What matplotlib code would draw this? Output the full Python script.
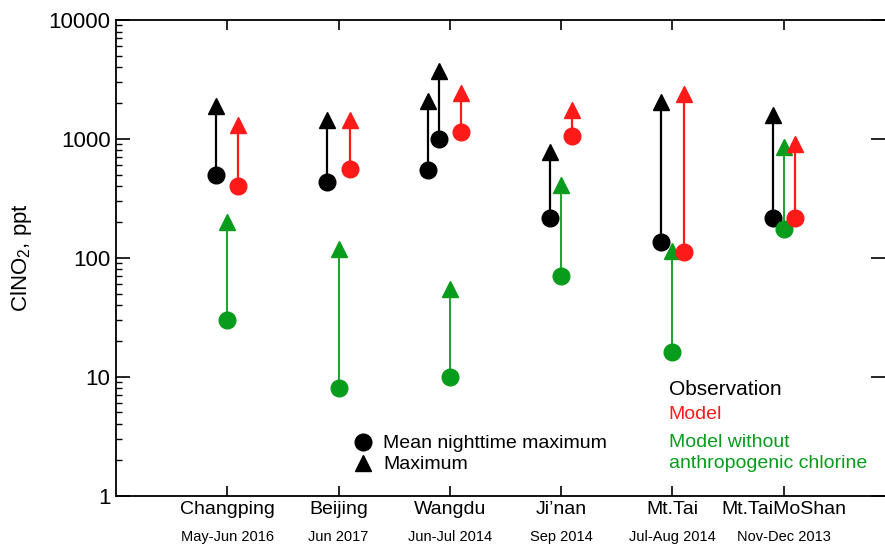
import matplotlib
matplotlib.use('Agg')
import matplotlib.pyplot as plt
from matplotlib.ticker import LogLocator, NullFormatter, FixedLocator
from matplotlib.transforms import blended_transform_factory

plt.rcParams['font.family'] = ['Liberation Sans', 'DejaVu Sans']
plt.rcParams['mathtext.default'] = 'regular'

# ---- data ----
sites = ['Changping', 'Beijing', 'Wangdu', 'Ji\u2019nan', 'Mt.Tai', 'Mt.TaiMoShan']
periods = ['May-Jun 2016', 'Jun 2017', 'Jun-Jul 2014', 'Sep 2014', 'Jul-Aug 2014', 'Nov-Dec 2013']
obs_mean = [500, 430, 550, 215, 135, 215]
obs_max = [1900, 1450, 2100, 780, 2050, 1600]
wangdu_obs2_mean = 1000
wangdu_obs2_max = 3700
model_mean = [400, 560, 1150, 1050, 112, 218]
model_max = [1300, 1450, 2450, 1750, 2400, 900]
noanth_mean = [30, 8, 10, 70, 16, 175]
noanth_max = [200, 118, 55, 410, 114, 850]

BLACK = '#000000'
RED = '#ff1a1a'
GREEN = '#079c1c'

fig = plt.figure(figsize=(8.85, 5.44), dpi=100)
ax = fig.add_axes([116/885, 1 - 495.5/544, 769/885, 475.5/544])


def arrow(x, lo, hi, color, lw, z):
    ax.plot([x, x], [lo, hi], color=color, lw=lw, zorder=z, solid_capstyle='butt')
    ax.plot([x], [lo], 'o', ms=12, color=color, mec=color, zorder=z + 0.5)
    ax.plot([x], [hi], '^', ms=11.5, color=color, mec=color, zorder=z + 0.5)


for i in range(len(sites)):
    xc = i + 1
    if i == 2:
        arrow(xc - 0.2, obs_mean[i], obs_max[i], BLACK, 1.6, 2)
        arrow(xc - 0.1, wangdu_obs2_mean, wangdu_obs2_max, BLACK, 1.6, 2)
    else:
        arrow(xc - 0.1, obs_mean[i], obs_max[i], BLACK, 1.6, 2)
    arrow(xc, noanth_mean[i], noanth_max[i], GREEN, 1.3, 3)
    arrow(xc + 0.1, model_mean[i], model_max[i], RED, 1.6, 4)

ax.set_yscale('log')
ax.set_ylim(1, 10000)
ax.set_xlim(0, 6.91)

ax.yaxis.set_major_locator(FixedLocator([1, 10, 100, 1000, 10000]))
ax.set_yticklabels(['1', '10', '100', '1000', '10000'])
ax.yaxis.set_minor_locator(LogLocator(base=10, subs=range(2, 10)))
ax.yaxis.set_minor_formatter(NullFormatter())

ax.set_xticks(range(1, len(sites) + 1))
ax.set_xticklabels(sites, fontsize=14)

ax.tick_params(axis='y', which='major', direction='in', length=10, width=1.2,
               labelsize=16, pad=4, left=True, right=True)
ax.tick_params(axis='y', which='minor', direction='in', length=4.5, width=1.0,
               left=True, right=False)
ax.tick_params(axis='x', which='major', direction='in', length=7, width=1.2,
               pad=4, top=True, bottom=True)

for s in ['left', 'top', 'bottom']:
    ax.spines[s].set_linewidth(1.3)
ax.spines['right'].set_visible(False)

ax.set_ylabel('ClNO$_{2}$, ppt', fontsize=16)
ax.yaxis.set_label_coords(-0.106, 0.5)

trans = blended_transform_factory(ax.transData, ax.transAxes)
for i, p in enumerate(periods):
    ax.text(i + 1, -0.088, p, transform=trans, ha='center', va='center', fontsize=10.5)

# legend (marker shapes)
ax.plot([0.3207], [0.1131], 'o', ms=12, color=BLACK, transform=ax.transAxes, clip_on=False)
ax.plot([0.3207], [0.0694], '^', ms=11, color=BLACK, transform=ax.transAxes, clip_on=False)
ax.text(0.3478, 0.1131, 'Mean nighttime maximum', transform=ax.transAxes,
        fontsize=14, va='center_baseline', ha='left', color=BLACK)
ax.text(0.3478, 0.0694, 'Maximum', transform=ax.transAxes,
        fontsize=14, va='center_baseline', ha='left', color=BLACK)

# legend (colours)
ax.text(0.7185, 0.2265, 'Observation', transform=ax.transAxes, fontsize=15,
        va='center_baseline', ha='left', color=BLACK)
ax.text(0.7185, 0.1739, 'Model', transform=ax.transAxes, fontsize=14,
        va='center_baseline', ha='left', color=RED)
ax.text(0.7185, 0.1155, 'Model without', transform=ax.transAxes, fontsize=14,
        va='center_baseline', ha='left', color=GREEN)
ax.text(0.7185, 0.0715, 'anthropogenic chlorine', transform=ax.transAxes, fontsize=14,
        va='center_baseline', ha='left', color=GREEN)

fig.savefig('out.png', dpi=100)
